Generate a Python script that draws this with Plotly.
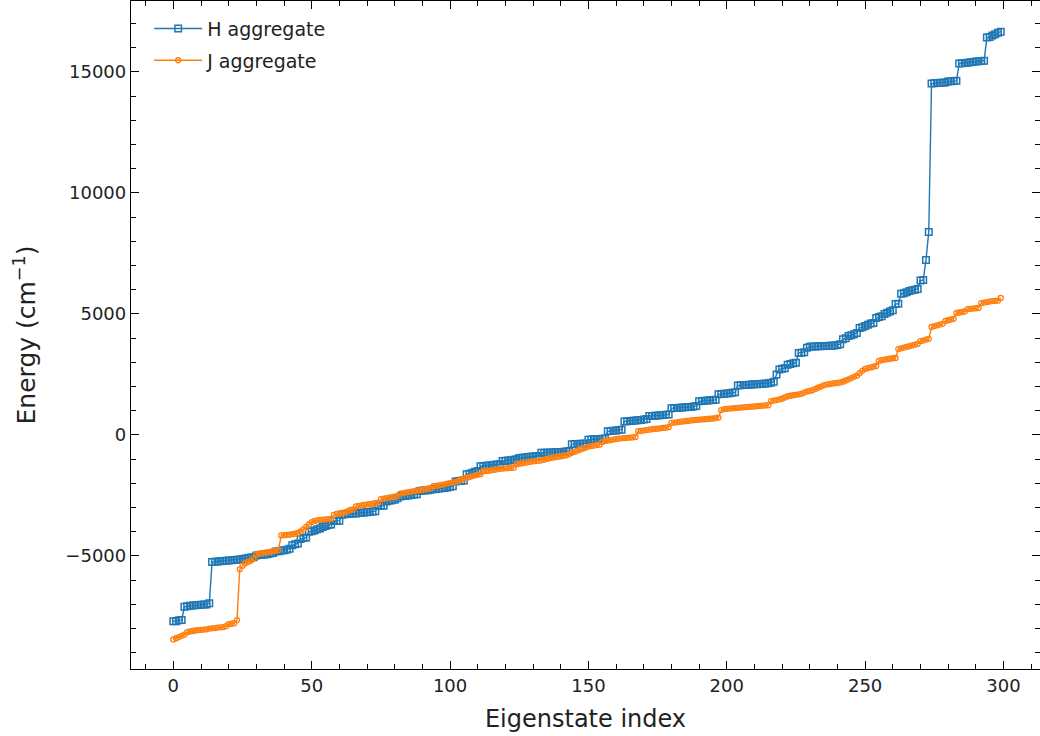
import plotly.graph_objects as go

eigen_index = list(range(300))

h_energy = [
    -7700, -7700, -7660, -7650, -7100, -7080, -7060, -7050, -7040, -7030,
    -7020, -7010, -7000, -6950, -5250, -5240, -5230, -5220, -5210, -5200,
    -5190, -5180, -5170, -5160, -5150, -5120, -5100, -5080, -5060, -5050,
    -4980, -4960, -4950, -4940, -4930, -4900, -4880, -4820, -4800, -4780,
    -4760, -4740, -4700, -4560, -4520, -4480, -4300, -4260, -4240, -4000,
    -3980, -3950, -3900, -3860, -3800, -3760, -3720, -3700, -3560, -3550,
    -3540, -3300, -3280, -3270, -3260, -3250, -3240, -3220, -3210, -3200,
    -3190, -3180, -3160, -3150, -2940, -2930, -2920, -2750, -2720, -2700,
    -2680, -2620, -2540, -2520, -2510, -2500, -2480, -2460, -2450, -2320,
    -2300, -2290, -2280, -2260, -2240, -2230, -2210, -2200, -2190, -2170,
    -2140, -2120, -1920, -1900, -1890, -1880, -1620, -1600, -1560, -1520,
    -1490, -1290, -1280, -1270, -1260, -1250, -1230, -1220, -1210, -1080,
    -1070, -1060, -1040, -1020, -1000, -950, -940, -930, -910, -900,
    -890, -880, -870, -740, -735, -730, -725, -720, -715, -710,
    -700, -690, -680, -660, -380, -375, -370, -365, -360, -350,
    -200, -190, -180, -170, -165, -160, -150, 150, 160, 170,
    180, 200, 220, 560, 570, 580, 590, 600, 610, 620,
    640, 660, 780, 785, 790, 800, 810, 820, 830, 850,
    1100, 1110, 1115, 1120, 1130, 1140, 1150, 1160, 1180, 1200,
    1390, 1400, 1410, 1420, 1430, 1440, 1450, 1680, 1690, 1700,
    1710, 1720, 1740, 1760, 2040, 2050, 2060, 2065, 2070, 2080,
    2090, 2100, 2110, 2120, 2130, 2140, 2160, 2200, 2500, 2700,
    2740, 2760, 2900, 2930, 2960, 2980, 3390, 3400, 3420, 3600,
    3640, 3650, 3660, 3665, 3670, 3675, 3680, 3685, 3690, 3700,
    3720, 3750, 3950, 4000, 4090, 4120, 4160, 4215, 4420, 4450,
    4500, 4550, 4600, 4630, 4830, 4870, 4900, 5000, 5050, 5100,
    5150, 5410, 5420, 5830, 5850, 5900, 5950, 5980, 6000, 6030,
    6380, 6400, 7230, 8390, 14520, 14530, 14540, 14550, 14555, 14560,
    14600, 14610, 14620, 14630, 15350, 15360, 15370, 15380, 15400, 15410,
    15430, 15440, 15450, 15460, 16420, 16440, 16500, 16560, 16620, 16660,
]

j_energy = [
    -8450, -8400, -8350, -8300, -8250, -8150, -8120, -8100, -8080, -8060,
    -8050, -8040, -8030, -8000, -7990, -7980, -7960, -7950, -7940, -7900,
    -7820, -7800, -7780, -7650, -5550, -5400, -5300, -5250, -5200, -5100,
    -4950, -4900, -4880, -4860, -4850, -4830, -4800, -4780, -4750, -4150,
    -4140, -4130, -4120, -4100, -4080, -4050, -3980, -3900, -3800, -3700,
    -3600, -3550, -3530, -3510, -3500, -3490, -3480, -3470, -3300, -3260,
    -3240, -3220, -3200, -3150, -3100, -3080, -2950, -2930, -2910, -2890,
    -2870, -2860, -2840, -2820, -2810, -2650, -2630, -2610, -2590, -2570,
    -2550, -2530, -2420, -2400, -2380, -2360, -2340, -2320, -2300, -2280,
    -2260, -2240, -2220, -2200, -2120, -2100, -2080, -2060, -2040, -2010,
    -1990, -1960, -1930, -1910, -1830, -1800, -1770, -1740, -1700, -1670,
    -1640, -1620, -1500, -1490, -1480, -1460, -1440, -1420, -1400, -1390,
    -1380, -1370, -1360, -1350, -1210, -1190, -1170, -1150, -1130, -1110,
    -1090, -1080, -1070, -1050, -1020, -990, -960, -940, -920, -900,
    -880, -860, -840, -800, -740, -700, -650, -600, -560, -520,
    -480, -460, -440, -420, -400, -300, -250, -230, -210, -190,
    -170, -150, -140, -130, -120, -110, -100, -80, 160, 170,
    180, 200, 220, 240, 250, 260, 275, 290, 300, 320,
    500, 510, 520, 540, 560, 570, 580, 600, 610, 620,
    630, 640, 650, 660, 670, 680, 700, 720, 1030, 1070,
    1080, 1090, 1100, 1110, 1120, 1130, 1140, 1150, 1160, 1170,
    1180, 1190, 1200, 1210, 1220, 1230, 1400, 1420, 1440, 1470,
    1500, 1550, 1600, 1620, 1640, 1660, 1680, 1700, 1750, 1800,
    1820, 1850, 1900, 1950, 2000, 2050, 2080, 2100, 2120, 2140,
    2150, 2170, 2200, 2250, 2300, 2350, 2400, 2450, 2550, 2650,
    2730, 2760, 2790, 2820, 2850, 3060, 3090, 3110, 3130, 3150,
    3170, 3180, 3550, 3580, 3610, 3640, 3670, 3700, 3730, 3760,
    3880, 3900, 3940, 3970, 4460, 4500, 4530, 4560, 4590, 4710,
    4740, 4770, 4800, 5040, 5060, 5080, 5100, 5200, 5210, 5220,
    5235, 5250, 5450, 5470, 5490, 5510, 5530, 5540, 5550, 5660,
]

series_names = ["H aggregate", "J aggregate"]
series_colors = ["#1f77b4", "#ff7f0e"]

FONT = "DejaVu Sans, Liberation Sans, sans-serif"

fig = go.Figure()
fig.add_trace(go.Scatter(
    x=eigen_index, y=h_energy, name=series_names[0], mode="lines+markers",
    legendgroup="h",
    line=dict(color=series_colors[0], width=1.4),
    marker=dict(symbol="square-open", size=6.5, color=series_colors[0],
                line=dict(width=1.5, color=series_colors[0])),
))
fig.add_trace(go.Scatter(
    x=eigen_index, y=j_energy, name=series_names[1], mode="lines+markers",
    legendgroup="j",
    line=dict(color=series_colors[1], width=1.4),
    marker=dict(symbol="circle-open", size=5, color=series_colors[1],
                line=dict(width=1.3, color=series_colors[1])),
))

axis_common = dict(
    showgrid=False, zeroline=False, showline=True, linecolor="#000",
    linewidth=1.3, mirror="allticks", ticks="inside", ticklen=8,
    tickwidth=1.2, tickcolor="#000",
    tickfont=dict(family=FONT, size=18, color="#222"),
)

fig.update_xaxes(
    **axis_common,
    range=[-15.3, 313.2], dtick=50, tick0=0,
    minor=dict(ticks="inside", dtick=10, ticklen=4.5, tickwidth=1.0, tickcolor="#000"),
    title=dict(text="Eigenstate index", font=dict(family=FONT, size=24, color="#222"),
               standoff=15),
)
fig.update_yaxes(
    **axis_common,
    range=[-9670, 17930], dtick=5000, tick0=0, tickformat="d",
    minor=dict(ticks="inside", dtick=1000, ticklen=4.5, tickwidth=1.0, tickcolor="#000"),
    title=dict(text="Energy (cm<sup>−1</sup>)", font=dict(family=FONT, size=25, color="#222"),
               standoff=22),
)

fig.update_layout(
    width=1040, height=736,
    margin=dict(l=131, r=0, t=1, b=67),
    paper_bgcolor="white", plot_bgcolor="white",
    font=dict(family=FONT, color="#222"),
    legend=dict(x=0.02, y=0.987, xanchor="left", yanchor="top",
                bgcolor="rgba(255,255,255,0)", borderwidth=0,
                itemwidth=48,
                font=dict(family=FONT, size=19, color="#222"),
                traceorder="grouped", tracegroupgap=4),
    showlegend=True,
)

fig.write_html("out.html")
